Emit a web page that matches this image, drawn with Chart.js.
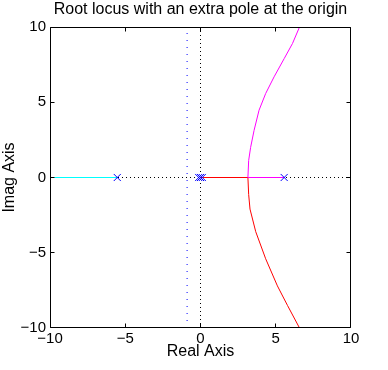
<!DOCTYPE html>
<html>
<head>
<meta charset="utf-8">
<script src="https://cdn.jsdelivr.net/npm/chart.js@4.4.0/dist/chart.umd.min.js"></script>
<style>
  html, body { margin: 0; padding: 0; background: #fff; }
</style>
</head>
<body>
<canvas id="chart" width="388" height="370"></canvas>
<script>
// axis range
var axisMin = -10, axisMax = 10;
var tickStep = 5;
var titleText = 'Root locus with an extra pole at the origin';

// branch on the negative real axis (cyan)
var cyanRe = [-10, -5.53];
var cyanIm = [0, 0];
// upper branch (magenta): from pole to breakaway, then up
var magentaRe = [5.56, 3.15, 3.2, 3.33, 3.56, 3.89, 4.33, 4.89, 5.56, 6.11, 6.58];
var magentaIm = [0, 0, 1.13, 2.0, 3.13, 4.47, 5.58, 6.69, 7.9, 8.9, 10];
// lower branch (red): from origin to breakaway, then down
var redRe = [0, 3.15, 3.2, 3.29, 3.67, 4.33, 5.11, 5.78, 6.58];
var redIm = [0, 0, -1.13, -2.1, -3.6, -5.4, -7.2, -8.5, -10];
// open loop poles
var poleRe = [-5.53, -0.12, 0, 0.12, 5.56];
var poleIm = [0, 0, 0, 0, 0];
// asymptote centre
var asymRe = -0.89;

var FONT = 'Liberation Sans, Arial, Helvetica, sans-serif';

function pts(re, im) {
  return re.map(function(r, i) { return {x: r, y: im[i]}; });
}

function minus(v) {
  return String(v).replace('-', '\u2212');
}

// box round the plot with inward tick marks, like matlab axes,
// and the title centred over the plot box
var framePlugin = {
  id: 'frame',
  afterDatasetsDraw: function(chart) {
    var ctx = chart.ctx, a = chart.chartArea;
    var xs = chart.scales.x, ys = chart.scales.y;
    var len = 4;
    var l = Math.floor(a.left) + 0.5, r = Math.floor(a.right) - 0.5;
    var t = Math.floor(a.top) + 0.5, b = Math.floor(a.bottom) - 0.5;
    ctx.save();
    ctx.strokeStyle = '#000';
    ctx.lineWidth = 1;
    ctx.beginPath();
    ctx.rect(l, t, r - l, b - t);
    xs.ticks.forEach(function(tk) {
      var px = Math.floor(xs.getPixelForValue(tk.value)) + 0.5;
      px = Math.min(Math.max(px, l), r);
      ctx.moveTo(px, b); ctx.lineTo(px, b - len);
      ctx.moveTo(px, t); ctx.lineTo(px, t + len);
    });
    ys.ticks.forEach(function(tk) {
      var py = Math.floor(ys.getPixelForValue(tk.value)) + 0.5;
      py = Math.min(Math.max(py, t), b);
      ctx.moveTo(l, py); ctx.lineTo(l + len, py);
      ctx.moveTo(r, py); ctx.lineTo(r - len, py);
    });
    ctx.stroke();

    ctx.fillStyle = '#000';
    ctx.font = '16px ' + FONT;
    ctx.textAlign = 'center';
    ctx.textBaseline = 'middle';
    ctx.fillText(titleText, (a.left + a.right) / 2, 10);
    ctx.restore();
  }
};

var lineDs = function(data, color, dash, order) {
  return {
    data: data,
    showLine: true,
    borderColor: color,
    borderWidth: 1,
    borderDash: dash || [],
    pointRadius: 0,
    pointHoverRadius: 0,
    fill: false,
    order: order
  };
};

var ctx = document.getElementById('chart').getContext('2d');
var chart = new Chart(ctx, {
  type: 'scatter',
  data: {
    datasets: [
      {
        data: pts(poleRe, poleIm),
        showLine: false,
        pointStyle: 'crossRot',
        pointRadius: 5,
        borderColor: '#0000ff',
        backgroundColor: '#0000ff',
        borderWidth: 1,
        order: 0
      },
      lineDs(pts(magentaRe, magentaIm), '#ff00ff', null, 1),
      lineDs(pts(redRe, redIm), '#ff0000', null, 1),
      lineDs(pts(cyanRe, cyanIm), '#00ffff', null, 1),
      lineDs(pts([axisMin, axisMax], [0, 0]), '#000', [1, 3], 3),
      lineDs(pts([0, 0], [axisMin, axisMax]), '#000', [1, 3], 3),
      lineDs(pts([asymRe, asymRe], [axisMin, axisMax]), '#0000ff', [1, 6], 3)
    ]
  },
  options: {
    responsive: false,
    animation: false,
    devicePixelRatio: 1,
    // plot box 50..351 x 27..328 so zero falls on a pixel centre
    layout: { padding: { left: 0, right: 37, top: 27, bottom: 0 } },
    plugins: {
      legend: { display: false },
      tooltip: { enabled: false },
      title: { display: false }
    },
    scales: {
      x: {
        type: 'linear',
        position: 'bottom',
        min: axisMin,
        max: axisMax,
        grid: { display: false, drawTicks: false },
        border: { display: false },
        ticks: {
          stepSize: tickStep,
          color: '#000',
          padding: 2,
          font: { family: FONT, size: 15 },
          callback: function(v) { return minus(v); }
        },
        title: {
          display: true,
          text: 'Real Axis',
          color: '#000',
          font: { family: FONT, size: 16 },
          padding: { top: 0, bottom: 9 }
        },
        afterFit: function(s) { s.height = 42; }
      },
      y: {
        type: 'linear',
        position: 'left',
        min: axisMin,
        max: axisMax,
        grid: { display: false, drawTicks: false },
        border: { display: false },
        ticks: {
          stepSize: tickStep,
          color: '#000',
          padding: 4,
          font: { family: FONT, size: 15 },
          callback: function(v) { return minus(v); }
        },
        title: {
          display: true,
          text: 'Imag Axis',
          color: '#000',
          font: { family: FONT, size: 16 },
          padding: { top: 0, bottom: 0 }
        },
        afterFit: function(s) { s.width = 50; }
      }
    }
  },
  plugins: [framePlugin]
});
</script>
</body>
</html>
